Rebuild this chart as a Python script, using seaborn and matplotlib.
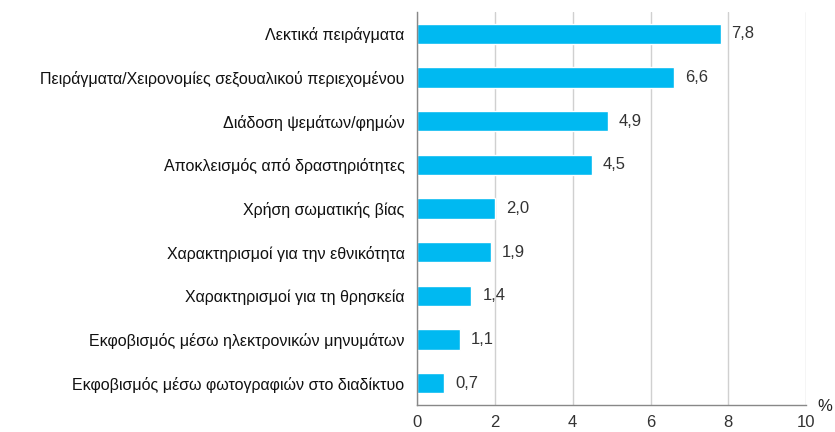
import numpy as np
import pandas as pd
import matplotlib
matplotlib.use('Agg')
import matplotlib.pyplot as plt
import seaborn as sns

categories = [
    'Λεκτικά πειράγματα',
    'Πειράγματα/Χειρονομίες σεξουαλικού περιεχομένου',
    'Διάδοση ψεμάτων/φημών',
    'Αποκλεισμός από δραστηριότητες',
    'Χρήση σωματικής βίας',
    'Χαρακτηρισμοί για την εθνικότητα',
    'Χαρακτηρισμοί για τη θρησκεία',
    'Εκφοβισμός μέσω ηλεκτρονικών μηνυμάτων',
    'Εκφοβισμός μέσω φωτογραφιών στο διαδίκτυο',
]
values = [7.8, 6.6, 4.9, 4.5, 2.0, 1.9, 1.4, 1.1, 0.7]
x_ticks = [0, 2, 4, 6, 8, 10]

df = pd.DataFrame({'cat': categories, 'val': values})

sns.set_style('white')
plt.rcParams['font.family'] = ['Liberation Sans', 'DejaVu Sans']

fig = plt.figure(figsize=(8.35, 4.32), dpi=100)
ax = fig.add_axes([0.4994, 0.0625, 0.4661, 0.9097])

sns.barplot(data=df, y='cat', x='val', orient='h', color='#00B9F1',
            saturation=1, width=0.46, ax=ax)

# value labels with comma decimals
for i, v in enumerate(values):
    ax.text(v + 0.28, i, f'{v:.1f}'.replace('.', ','), va='center', ha='left',
            fontsize=12, color='#333333')

ax.set_xlim(0, 10)
ax.set_ylim(len(categories) - 0.5, -0.5)
ax.set_xticks(x_ticks)
ax.set_xticklabels([str(t) for t in x_ticks], fontsize=12, color='#333333')
ax.set_xlabel('')
ax.set_ylabel('')
ax.tick_params(axis='y', which='major', length=0, labelsize=11.5, labelcolor='#111111', pad=9)
ax.set_yticks(np.arange(-0.5, len(categories)), minor=True)
ax.tick_params(axis='y', which='minor', length=5, color='#888888', width=1)
ax.tick_params(axis='x', length=5, color='#888888', width=1, pad=2)

ax.grid(axis='x', color='#d0d0d0', linewidth=1)
ax.set_axisbelow(True)
for s in ['top', 'right']:
    ax.spines[s].set_visible(False)
for s in ['left', 'bottom']:
    ax.spines[s].set_color('#888888')
    ax.spines[s].set_linewidth(1)

fig.text(0.997, 0.058, '%', ha='right', va='center', fontsize=12, color='#222222')

fig.savefig('out.png', dpi=100)
